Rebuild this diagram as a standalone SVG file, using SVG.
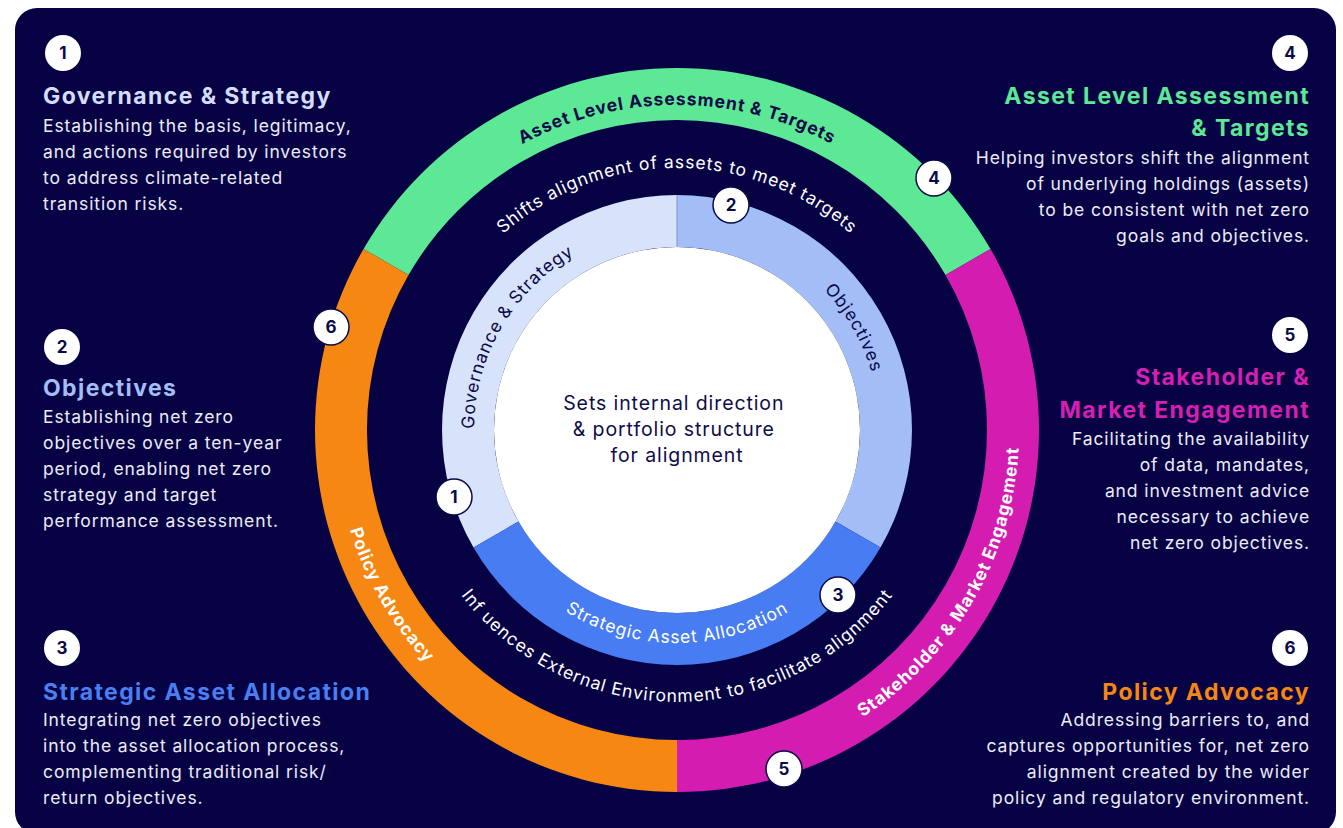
<svg xmlns="http://www.w3.org/2000/svg" xmlns:xlink="http://www.w3.org/1999/xlink" width="1343" height="828" viewBox="0 0 1343 828">
<style>
.bg{fill:#060244}
.body{font-family:Inter,"Noto Sans",sans-serif;font-size:17.5px;letter-spacing:0.9px;fill:#ecebf7}
.title{font-family:Inter,"Noto Sans",sans-serif;font-size:23px;letter-spacing:1.4px;font-weight:700}
.num{font-family:Inter,"Noto Sans",sans-serif;font-size:17px;font-weight:700;fill:#0b0a48;text-anchor:middle}
.badge{fill:#ffffff}
.rbadge{fill:#ffffff;stroke:#0b0a48;stroke-width:1.5}
.arc{font-family:Inter,"Noto Sans",sans-serif;font-size:17.5px;letter-spacing:0.9px}
.arcb{font-family:Inter,"Noto Sans",sans-serif;font-size:17.5px;letter-spacing:0.9px;font-weight:700}
.r{text-anchor:end}
</style>
<defs>
<path id="p-alat" d="M395.5,267.5 A325,325 0 0 1 958.5,267.5"/>
<path id="p-shift" d="M430.8,340.4 A262,262 0 0 1 923.2,340.4"/>
<path id="p-gov" d="M501.2,531.5 A203,203 0 0 1 677,227"/>
<path id="p-obj" d="M677,227 A203,203 0 0 1 852.8,531.5"/>
<path id="p-saa" d="M492.5,536.5 A213,213 0 0 0 861.5,536.5"/>
<path id="p-inf" d="M405,430 A272,272 0 0 0 949,430"/>
<path id="p-pol" d="M380.8,259 A342,342 0 0 0 677,772"/>
<path id="p-stk" d="M677,772 A342,342 0 0 0 973.2,259"/>
</defs>
<rect x="0" y="0" width="1343" height="828" fill="#ffffff"/>
<rect class="bg" x="15" y="8" width="1321" height="826" rx="22"/>

<g id="outer-ring">
<g id="ring-asset-level">
<path d="M363.5,249 A362,362 0 0 1 990.5,249 L945.5,275 A310,310 0 0 0 408.5,275 Z" fill="#5ce895"/>
<text class="arcb" fill="#0b0a48"><textPath href="#p-alat" startOffset="50%" text-anchor="middle">Asset Level Assessment &amp; Targets</textPath></text>
</g>
<g id="ring-stakeholder">
<path d="M990.5,249 A362,362 0 0 1 677,792 L677,740 A310,310 0 0 0 945.5,275 Z" fill="#d51cb1"/>
<text class="arcb" fill="#ffffff"><textPath href="#p-stk" startOffset="50%" text-anchor="middle">Stakeholder &amp; Market Engagement</textPath></text>
</g>
<g id="ring-policy">
<path d="M677,792 A362,362 0 0 1 363.5,249 L408.5,275 A310,310 0 0 0 677,740 Z" fill="#f68712"/>
<text class="arcb" fill="#ffffff"><textPath href="#p-pol" startOffset="50%" text-anchor="middle">Policy Advocacy</textPath></text>
</g>
</g>

<g id="middle-labels">
<text class="arc" fill="#ffffff"><textPath href="#p-shift" startOffset="50%" text-anchor="middle">Shifts alignment of assets to meet targets</textPath></text>
<text class="arc" fill="#ffffff"><textPath href="#p-inf" startOffset="50%" text-anchor="middle">Inf uences External Environment to facilitate alignment</textPath></text>
</g>

<g id="inner-ring">
<g id="seg-governance">
<path d="M473.5,547.5 A235,235 0 0 1 677,195 L677,247 A183,183 0 0 0 518.5,521.5 Z" fill="#d7e2fb"/>
<text class="arc" fill="#0b0a48"><textPath href="#p-gov" startOffset="50%" text-anchor="middle">Governance &amp; Strategy</textPath></text>
</g>
<g id="seg-objectives">
<path d="M677,195 A235,235 0 0 1 880.5,547.5 L835.5,521.5 A183,183 0 0 0 677,247 Z" fill="#a3bdf7"/>
<line x1="677" y1="195" x2="677" y2="247" stroke="#8093d8" stroke-width="1"/>
<text class="arc" fill="#0b0a48"><textPath href="#p-obj" startOffset="50%" text-anchor="middle">Objectives</textPath></text>
</g>
<g id="seg-saa">
<path d="M880.5,547.5 A235,235 0 0 1 473.5,547.5 L518.5,521.5 A183,183 0 0 0 835.5,521.5 Z" fill="#487cf2"/>
<text class="arc" fill="#ffffff"><textPath href="#p-saa" startOffset="50%" text-anchor="middle">Strategic Asset Allocation</textPath></text>
</g>
</g>

<g id="center">
<circle cx="677" cy="430" r="183" fill="#ffffff"/>
<text font-family="Inter,'Noto Sans',sans-serif" font-size="19.5" letter-spacing="0.9" fill="#0f0c4a" text-anchor="middle">
<tspan x="677" y="410">Sets internal direction</tspan>
<tspan x="677" y="436">&amp; portfolio structure</tspan>
<tspan x="677" y="462">for alignment</tspan>
</text>
</g>

<g id="ring-badges">
<g id="rb1"><circle class="rbadge" cx="454" cy="497" r="18"/><text class="num" x="454" y="503">1</text></g>
<g id="rb2"><circle class="rbadge" cx="731" cy="205" r="18"/><text class="num" x="731" y="211">2</text></g>
<g id="rb3"><circle class="rbadge" cx="838" cy="595" r="18"/><text class="num" x="838" y="601">3</text></g>
<g id="rb4"><circle class="rbadge" cx="934" cy="178" r="18"/><text class="num" x="934" y="184">4</text></g>
<g id="rb5"><circle class="rbadge" cx="784" cy="769" r="18"/><text class="num" x="784" y="775">5</text></g>
<g id="rb6"><circle class="rbadge" cx="331" cy="327" r="18"/><text class="num" x="331" y="333">6</text></g>
</g>

<g id="block-1">
<circle class="badge" cx="63" cy="53" r="18"/><text class="num" x="63" y="59">1</text>
<text class="title" x="43" y="104" fill="#d4ddfb">Governance &amp; Strategy</text>
<text class="body"><tspan x="43" y="132">Establishing the basis, legitimacy,</tspan><tspan x="43" y="158">and actions required by investors</tspan><tspan x="43" y="184">to address climate-related</tspan><tspan x="43" y="210">transition  risks.</tspan></text>
</g>

<g id="block-2">
<circle class="badge" cx="62" cy="347" r="18"/><text class="num" x="62" y="353">2</text>
<text class="title" x="43" y="396" fill="#a3bdf7">Objectives</text>
<text class="body"><tspan x="43" y="423">Establishing net zero</tspan><tspan x="43" y="449">objectives over a ten-year</tspan><tspan x="43" y="475">period, enabling net zero</tspan><tspan x="43" y="501">strategy and target</tspan><tspan x="43" y="527">performance assessment.</tspan></text>
</g>

<g id="block-3">
<circle class="badge" cx="62" cy="648" r="18"/><text class="num" x="62" y="654">3</text>
<text class="title" x="43" y="700" fill="#4a7ff2">Strategic Asset Allocation</text>
<text class="body"><tspan x="43" y="726">Integrating net zero objectives</tspan><tspan x="43" y="752">into the asset allocation process,</tspan><tspan x="43" y="778">complementing traditional risk/</tspan><tspan x="43" y="804">return objectives.</tspan></text>
</g>

<g id="block-4">
<circle class="badge" cx="1290" cy="53" r="18"/><text class="num" x="1290" y="59">4</text>
<text class="title r" fill="#5ce895"><tspan x="1310" y="104">Asset Level Assessment</tspan><tspan x="1310" y="136">&amp; Targets</tspan></text>
<text class="body r"><tspan x="1310" y="164">Helping investors shift the alignment</tspan><tspan x="1310" y="190">of underlying holdings (assets)</tspan><tspan x="1310" y="216">to be consistent with net zero</tspan><tspan x="1310" y="242">goals and objectives.</tspan></text>
</g>

<g id="block-5">
<circle class="badge" cx="1290" cy="335" r="18"/><text class="num" x="1290" y="341">5</text>
<text class="title r" fill="#d51fb3"><tspan x="1310" y="385">Stakeholder &amp;</tspan><tspan x="1310" y="418">Market Engagement</tspan></text>
<text class="body r"><tspan x="1310" y="445">Facilitating the availability</tspan><tspan x="1310" y="471">of data, mandates,</tspan><tspan x="1310" y="497">and investment advice</tspan><tspan x="1310" y="523">necessary to achieve</tspan><tspan x="1310" y="549">net zero objectives.</tspan></text>
</g>

<g id="block-6">
<circle class="badge" cx="1290" cy="648" r="18"/><text class="num" x="1290" y="654">6</text>
<text class="title r" x="1310" y="700" fill="#f68712">Policy Advocacy</text>
<text class="body r"><tspan x="1310" y="726">Addressing barriers to, and</tspan><tspan x="1310" y="752">captures opportunities for, net zero</tspan><tspan x="1310" y="778">alignment created by the wider</tspan><tspan x="1310" y="804">policy and regulatory environment.</tspan></text>
</g>

<g id="connectors"/>
</svg>
